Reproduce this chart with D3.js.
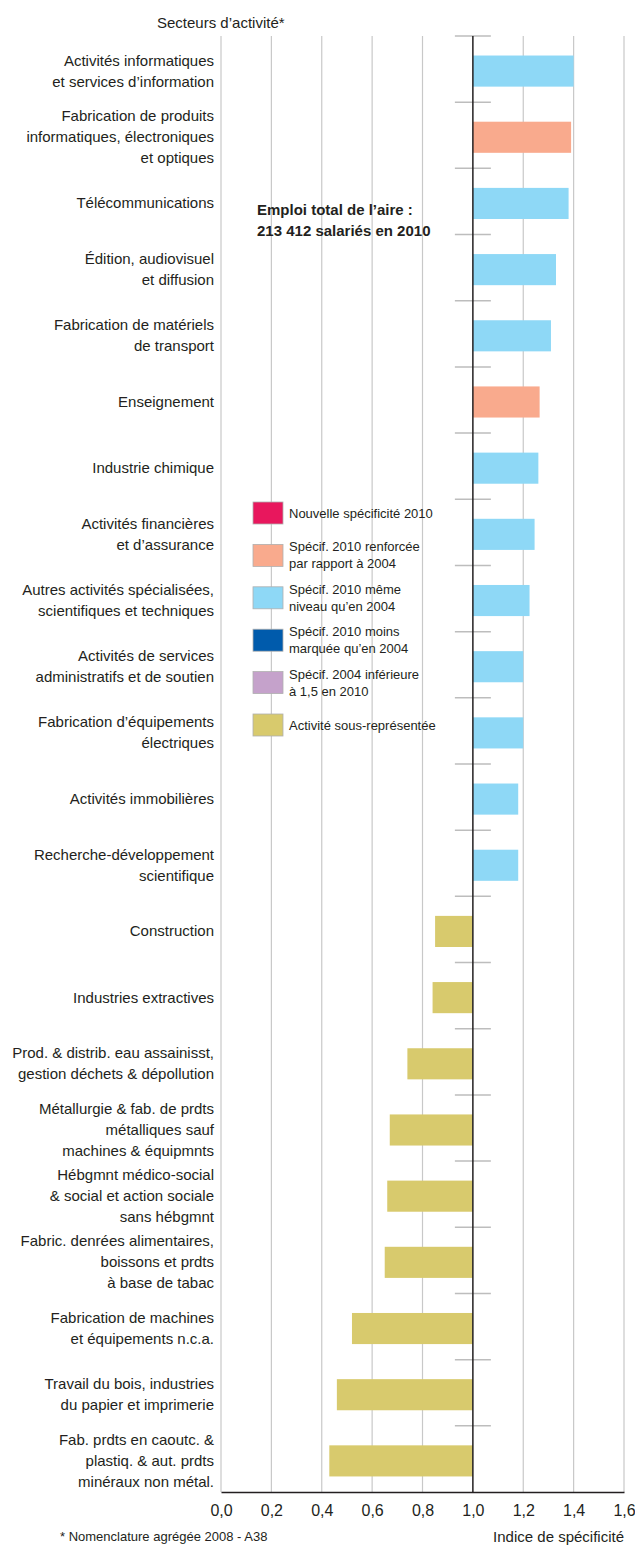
<!DOCTYPE html>
<html>
<head>
<meta charset="utf-8">
<script src="https://cdn.jsdelivr.net/npm/d3@7"></script>
<style>
  body { margin: 0; background: #fff; }
  svg { display: block; font-family: "Liberation Sans", Arial, Helvetica, sans-serif; }
</style>
</head>
<body>
<svg id="chart"></svg>
<script>
// secteurs, du plus spécifique au moins spécifique
const categories = [
  ["Activités informatiques", "et services d’information"],
  ["Fabrication de produits", "informatiques, électroniques", "et optiques"],
  ["Télécommunications"],
  ["Édition, audiovisuel", "et diffusion"],
  ["Fabrication de matériels", "de transport"],
  ["Enseignement"],
  ["Industrie chimique"],
  ["Activités financières", "et d’assurance"],
  ["Autres activités spécialisées,", "scientifiques et techniques"],
  ["Activités de services", "administratifs et de soutien"],
  ["Fabrication d’équipements", "électriques"],
  ["Activités immobilières"],
  ["Recherche-développement", "scientifique"],
  ["Construction"],
  ["Industries extractives"],
  ["Prod. & distrib. eau assainisst,", "gestion déchets & dépollution"],
  ["Métallurgie & fab. de prdts", "métalliques sauf", "machines & équipmnts"],
  ["Hébgmnt médico-social", "& social et action sociale", "sans hébgmnt"],
  ["Fabric. denrées alimentaires,", "boissons et prdts", "à base de tabac"],
  ["Fabrication de machines", "et équipements n.c.a."],
  ["Travail du bois, industries", "du papier et imprimerie"],
  ["Fab. prdts en caoutc. &", "plastiq. & aut. prdts", "minéraux non métal."]
];

const values = [1.40, 1.39, 1.38, 1.33, 1.31, 1.265, 1.26, 1.245, 1.225, 1.20, 1.20, 1.18, 1.18,
                0.85, 0.84, 0.74, 0.67, 0.66, 0.65, 0.52, 0.46, 0.43];

const status = ["meme", "renf", "meme", "meme", "meme", "renf", "meme", "meme", "meme", "meme",
                "meme", "meme", "meme", "sous", "sous", "sous", "sous", "sous", "sous", "sous",
                "sous", "sous"];

const legendKeys = ["nouv", "renf", "meme", "moins", "inf", "sous"];
const legendLabels = [
  ["Nouvelle spécificité 2010"],
  ["Spécif. 2010 renforcée", "par rapport à 2004"],
  ["Spécif. 2010 même", "niveau qu’en 2004"],
  ["Spécif. 2010 moins", "marquée qu’en 2004"],
  ["Spécif. 2004 inférieure", "à 1,5 en 2010"],
  ["Activité sous-représentée"]
];

const tickValues = [0, 0.2, 0.4, 0.6, 0.8, 1.0, 1.2, 1.4, 1.6];

const W = 635, H = 1548;
const textColor = "#231f20";

const color = d3.scaleOrdinal()
  .domain(legendKeys)
  .range(["#e8175d", "#f9aa8d", "#8ed8f6", "#005bac", "#c5a2cb", "#d8ca6d"]);

const svg = d3.select("#chart").attr("width", W).attr("height", H);

const x = d3.scaleLinear().domain([0, 1.6]).range([221, 624]);
const y = d3.scaleBand().domain(d3.range(categories.length)).range([36, 1492]);
const bw = y.bandwidth();

// grille verticale
svg.append("g")
  .selectAll("line")
  .data(tickValues.filter(d => d !== 1))
  .join("line")
  .attr("x1", d => x(d)).attr("x2", d => x(d))
  .attr("y1", y.range()[0]).attr("y2", y.range()[1])
  .attr("stroke", "#c8c8c8")
  .attr("stroke-width", 1.2);

// titre
svg.append("text")
  .attr("x", 157).attr("y", 28)
  .attr("font-size", 15)
  .attr("fill", textColor)
  .text("Secteurs d’activité*");

// barres
const data = values.map((v, i) => ({ i, v, s: status[i] }));
svg.append("g")
  .selectAll("rect")
  .data(data)
  .join("rect")
  .attr("x", d => Math.min(x(d.v), x(1)))
  .attr("width", d => Math.abs(x(d.v) - x(1)))
  .attr("y", d => y(d.i) + bw * 0.295)
  .attr("height", bw * 0.47)
  .attr("fill", d => color(d.s));

// petits repères entre secteurs
svg.append("g")
  .selectAll("line")
  .data(d3.range(categories.length))
  .join("line")
  .attr("x1", x(1) - 18).attr("x2", x(1) + 18)
  .attr("y1", d => y(d)).attr("y2", d => y(d))
  .attr("stroke", "#bdbdbd")
  .attr("stroke-width", 1.5);

// ligne de référence 1,0
svg.append("line")
  .attr("x1", x(1)).attr("x2", x(1))
  .attr("y1", y.range()[0]).attr("y2", y.range()[1])
  .attr("stroke", "#231f20")
  .attr("stroke-width", 1.5);

// libellés des secteurs
const lineH = 21;
const labels = svg.append("g")
  .attr("font-size", 15)
  .attr("fill", textColor)
  .attr("text-anchor", "end");
categories.forEach((lines, i) => {
  const cy = y(i) + bw * 0.295 + bw * 0.235;
  const t = labels.append("text");
  lines.forEach((l, k) => {
    t.append("tspan")
      .attr("x", 214)
      .attr("y", cy + (k - (lines.length - 1) / 2) * lineH + 5)
      .text(l);
  });
});

// axe horizontal
const axis = svg.append("g")
  .attr("transform", `translate(0,${y.range()[1]})`)
  .call(d3.axisBottom(x)
    .tickValues(tickValues)
    .tickSize(0)
    .tickPadding(13)
    .tickFormat(d => d.toFixed(1).replace(".", ",")));
axis.select(".domain").attr("stroke", "#231f20").attr("stroke-width", 1.5);
axis.selectAll("text")
  .attr("font-size", 16)
  .attr("fill", textColor)
  .attr("font-family", "Liberation Sans, Arial, sans-serif");

svg.append("text")
  .attr("x", 624).attr("y", 1542)
  .attr("text-anchor", "end")
  .attr("font-size", 15)
  .attr("fill", textColor)
  .text("Indice de spécificité");

svg.append("text")
  .attr("x", 60).attr("y", 1541)
  .attr("font-size", 13)
  .attr("fill", textColor)
  .text("* Nomenclature agrégée 2008 - A38");

// encadré emploi total
const note = svg.append("text")
  .attr("font-size", 15)
  .attr("font-weight", "bold")
  .attr("fill", textColor);
["Emploi total de l’aire :", "213 412 salariés en 2010"].forEach((l, k) => {
  note.append("tspan").attr("x", 257).attr("y", 214.5 + k * 21).text(l);
});

// légende
const lg = svg.append("g").attr("transform", "translate(253,502)");
const item = lg.selectAll("g")
  .data(legendKeys)
  .join("g")
  .attr("transform", (d, i) => `translate(0,${i * 42.4})`);
item.append("rect")
  .attr("width", 30).attr("height", 22)
  .attr("fill", d => color(d))
  .attr("stroke", "#b0b0b0")
  .attr("stroke-width", 0.8);
item.append("text")
  .attr("font-size", 13)
  .attr("fill", textColor)
  .each(function (d, i) {
    const lines = legendLabels[i];
    lines.forEach((l, k) => {
      d3.select(this).append("tspan")
        .attr("x", 36)
        .attr("y", 11 + (k - (lines.length - 1) / 2) * 17 + 4.5)
        .text(l);
    });
  });
</script>
</body>
</html>
